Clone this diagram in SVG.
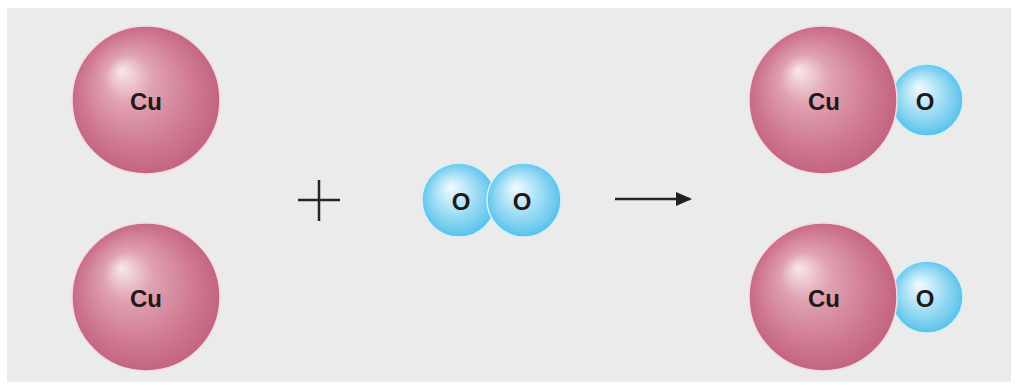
<svg xmlns="http://www.w3.org/2000/svg" width="1018" height="385" viewBox="0 0 1018 385">
  <defs>
    <radialGradient id="cuGrad" cx="0.5" cy="0.5" r="0.55" fx="0.33" fy="0.3">
      <stop offset="0" stop-color="#f8e8ec"/>
      <stop offset="0.3" stop-color="#e0a2b2"/>
      <stop offset="0.7" stop-color="#cf7890"/>
      <stop offset="1" stop-color="#c05e7c"/>
    </radialGradient>
    <radialGradient id="oGrad" cx="0.5" cy="0.5" r="0.55" fx="0.38" fy="0.32">
      <stop offset="0" stop-color="#f2fbff"/>
      <stop offset="0.4" stop-color="#b2e4f7"/>
      <stop offset="0.8" stop-color="#70cbee"/>
      <stop offset="1" stop-color="#48bbe6"/>
    </radialGradient>
    <marker id="arrowHead" markerWidth="16" markerHeight="14" refX="14" refY="7" orient="auto" markerUnits="userSpaceOnUse">
      <path d="M0,0 L16,7 L0,14 Z" fill="#222"/>
    </marker>
  </defs>
  <style>
    .cu { fill: url(#cuGrad); stroke: #f3dbe0; stroke-width: 1.5; }
    .o { fill: url(#oGrad); stroke: #d6f0fa; stroke-width: 1.5; }
    .lbl { font-family: "Liberation Sans", Arial, sans-serif; font-weight: bold; font-size: 24px; fill: #231818; text-anchor: middle; dominant-baseline: central; }
    .sign { stroke: #262626; stroke-width: 2.5; fill: none; }
  </style>

  <rect x="0" y="0" width="1018" height="385" fill="#ffffff"/>
  <rect x="7" y="8" width="1004" height="374" fill="#ebebeb"/>

  <!-- reactants: two copper atoms -->
  <g id="cu1">
    <circle class="cu" cx="146" cy="100" r="74"/>
    <text class="lbl" x="146" y="101">Cu</text>
  </g>
  <g id="cu2">
    <circle class="cu" cx="146" cy="297" r="74"/>
    <text class="lbl" x="146" y="298">Cu</text>
  </g>

  <!-- oxygen molecule -->
  <g id="o2">
    <circle class="o" cx="459" cy="200" r="37"/>
    <circle class="o" cx="524" cy="200" r="37"/>
    <text class="lbl" x="461" y="201">O</text>
    <text class="lbl" x="522" y="201">O</text>
  </g>

  <!-- products: two copper oxide units -->
  <g id="cuo1">
    <circle class="o" cx="927" cy="100" r="36"/>
    <circle class="cu" cx="823" cy="100" r="74"/>
    <text class="lbl" x="824" y="101">Cu</text>
    <text class="lbl" x="925" y="101">O</text>
  </g>
  <g id="cuo2">
    <circle class="o" cx="927" cy="297" r="36"/>
    <circle class="cu" cx="823" cy="297" r="74"/>
    <text class="lbl" x="824" y="298">Cu</text>
    <text class="lbl" x="925" y="298">O</text>
  </g>

  <!-- plus sign and reaction arrow -->
  <g id="connectors">
    <path class="sign" d="M298,200 H340 M319,180 V221"/>
    <line class="sign" x1="615" y1="199" x2="690" y2="199" marker-end="url(#arrowHead)"/>
  </g>
</svg>
